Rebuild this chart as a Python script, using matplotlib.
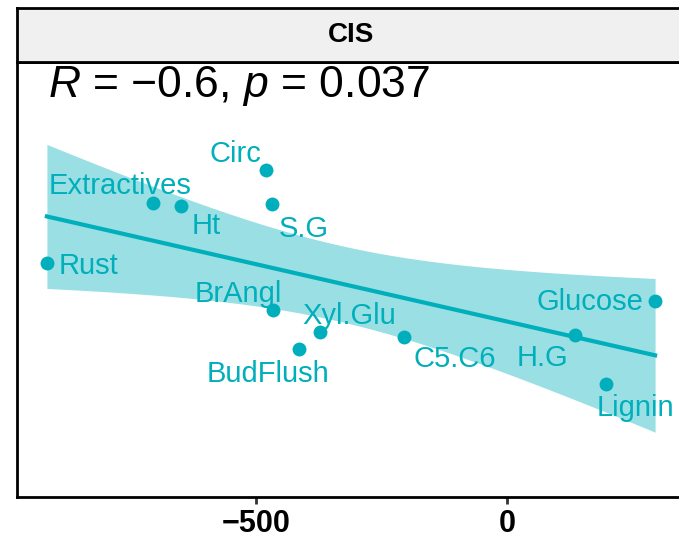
import numpy as np
import matplotlib
matplotlib.use("Agg")
import matplotlib.pyplot as plt

plt.rcParams["font.family"] = ["Liberation Sans", "DejaVu Sans"]
plt.rcParams["mathtext.fontset"] = "custom"
plt.rcParams["mathtext.rm"] = "Liberation Sans"
plt.rcParams["mathtext.it"] = "Liberation Sans:italic"

# data (y has no labelled scale)
traits = ["Rust", "Extractives", "Ht", "Circ", "S.G", "BrAngl",
          "Xyl.Glu", "BudFlush", "C5.C6", "H.G", "Glucose", "Lignin"]
x_vals = np.array([-917, -706, -649, -480, -468, -466, -373, -414, -205, 135, 295, 197], float)
y_vals = np.array([237, 297, 294, 330, 296, 190, 168, 151, 163, 165, 199, 116], float)
r_text = r"$R$ = −0.6, $p$ = 0.037"
panel = "CIS"

# label offsets in pixels (dx, dy up), alignment
offs = {"Rust": (12, -3, "left"), "Extractives": (-33, 17, "center"), "Ht": (25, -20, "center"),
        "Circ": (-31, 16, "center"), "S.G": (31, -25, "center"), "BrAngl": (-35, 16, "center"),
        "Xyl.Glu": (29, 16, "center"), "BudFlush": (-31, -25, "center"), "C5.C6": (51, -22, "center"),
        "H.G": (-32, -23, "center"), "Glucose": (-12, -1, "right"), "Lignin": (30, -24, "center")}

col = "#00AFBB"

# linear fit + 95% CI
n = len(x_vals)
b, a = np.polyfit(x_vals, y_vals, 1)
xs = np.linspace(x_vals.min(), x_vals.max(), 100)
fit = a + b * xs
resid = y_vals - (a + b * x_vals)
s = np.sqrt(np.sum(resid ** 2) / (n - 2))
sxx = np.sum((x_vals - x_vals.mean()) ** 2)
t975 = 2.228  # df = 10
se = s * np.sqrt(1 / n + (xs - x_vals.mean()) ** 2 / sxx)

fig = plt.figure(figsize=(6.79, 5.40), dpi=100)
ax = fig.add_axes([16.5 / 679, 1 - 497 / 540, 669 / 679, 435 / 540])
ax.fill_between(xs, fit - t975 * se, fit + t975 * se, color=col, alpha=0.4, lw=0)
ax.plot(xs, fit, color=col, lw=3)
ax.plot(x_vals, y_vals, "o", color=col, ms=10, mec="none")
for t, xv, yv in zip(traits, x_vals, y_vals):
    dx, dy, ha = offs[t]
    ax.annotate(t, (xv, yv), xytext=(dx, dy), textcoords="offset pixels",
                ha=ha, va="center", color=col, fontsize=21)
ax.text(0.047, 0.92, r_text, transform=ax.transAxes, ha="left", va="baseline", fontsize=32)

x_lo, x_hi = x_vals.min(), x_vals.max()
pad = 0.05 * (x_hi - x_lo)
ax.set_xlim(x_lo - pad, x_hi + pad)
ax.set_ylim(3, 438)
ax.set_xticks([-500, 0])
ax.set_yticks([])
ax.tick_params(axis="x", length=5, width=2, color="#333333", labelsize=22, pad=3.5)
for lab in ax.get_xticklabels():
    lab.set_fontweight("bold")
for sp in ax.spines.values():
    sp.set_linewidth(2)

sax = fig.add_axes([16.5 / 679, 1 - 62 / 540, 669 / 679, 54 / 540])
sax.set_facecolor("#F0F0F0")
sax.set_xticks([]); sax.set_yticks([])
for sp in sax.spines.values():
    sp.set_linewidth(2)
sax.text(0.5, 0.5, panel, transform=sax.transAxes,
         ha="center", va="center", fontsize=20, fontweight="bold")

fig.savefig("out.png", dpi=100)
